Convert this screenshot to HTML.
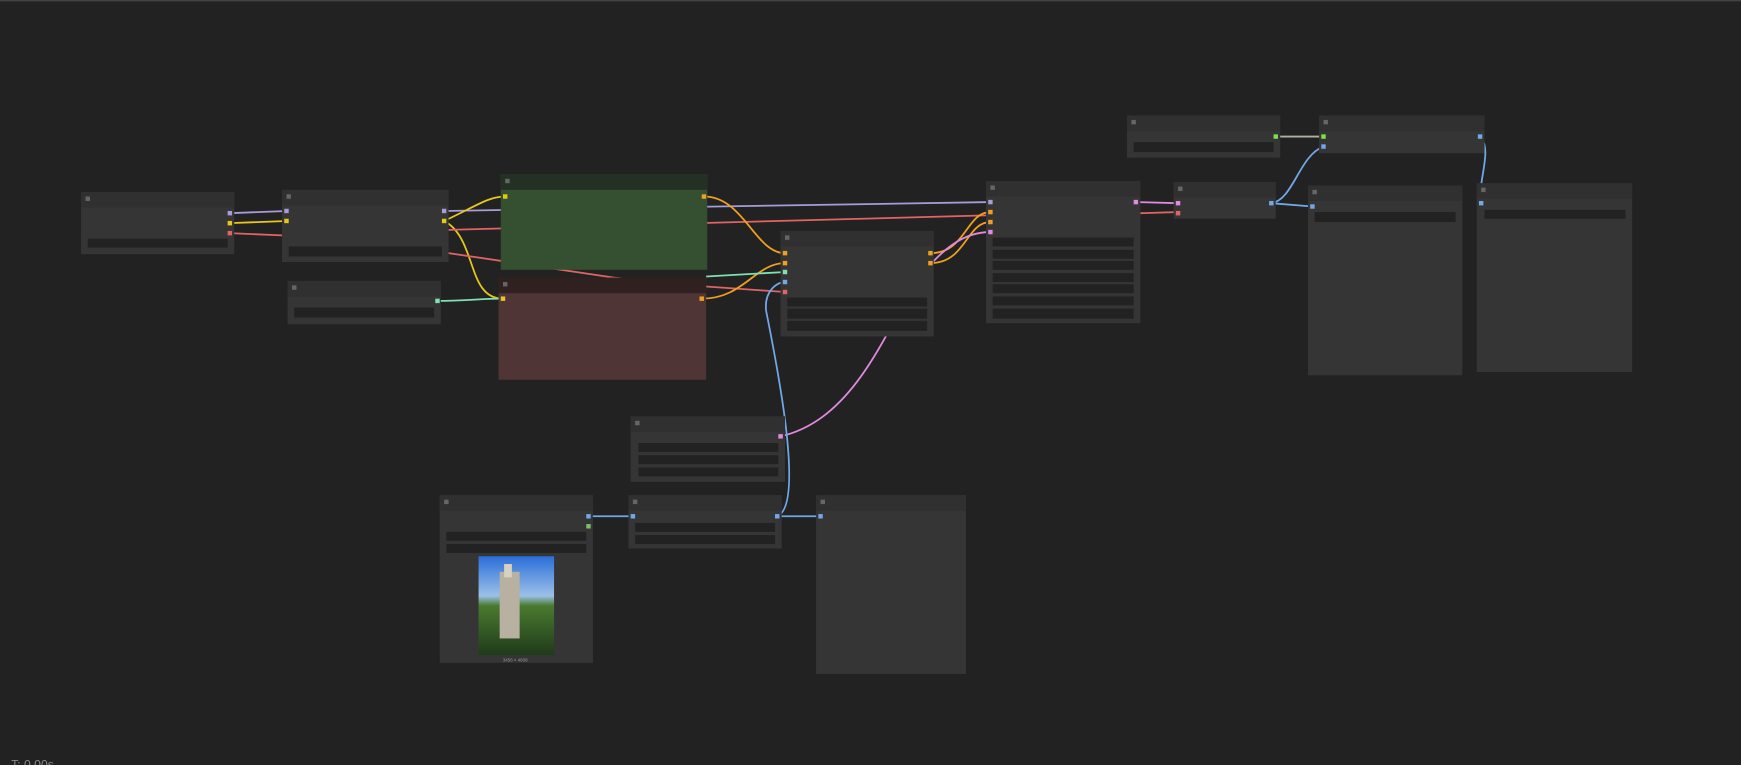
<!DOCTYPE html>
<html><head><style>
html,body{margin:0;padding:0;background:#222;overflow:hidden}
svg{display:block}
</style></head><body>
<svg width="1741" height="765" viewBox="0 0 1568 689" xmlns="http://www.w3.org/2000/svg">
<rect x="0" y="0" width="1568" height="689" fill="#222"/>
<line x1="0" y1="0.5" x2="1568" y2="0.5" stroke="#444" stroke-width="1.5"/>
<g fill="none" stroke-width="1.6">
<path d="M207 192 L258 190" stroke="#a99bd8"/>
<path d="M207 201 L258 199" stroke="#e6c819"/>
<path d="M207 210 L254 212" stroke="#e06464"/>
<path d="M400 190 L892 182" stroke="#a99bd8"/>
<path d="M400 199 C430 185,440 177,455 177" stroke="#e6c819"/>
<path d="M400 199 C430 215,420 269,453 269" stroke="#e6c819"/>
<path d="M404 207 L888 194" stroke="#e06464"/>
<path d="M404 228 L553 250 L636 258 L707 263" stroke="#e06464"/>
<path d="M393 271 C420 271,430 269,453 269" stroke="#7fe0b0"/>
<path d="M634 177 C670 177,680 228,707 228" stroke="#f0a020"/>
<path d="M632 269 C670 269,680 237,707 237" stroke="#f0a020"/>
<path d="M636 249 L707 245" stroke="#7fe0b0"/>
<path d="M838 228 C870 228,870 191,892 191" stroke="#f0a020"/>
<path d="M838 237 C870 237,870 200,892 200" stroke="#f0a020"/>
<path d="M703 393 C760 380,790 320,820 260 C850 220,870 209,892 209" stroke="#e08ae0"/>
<path d="M700 465 C725 455,700 330,690 280 C688 262,700 254,707 254" stroke="#70a8e8"/>
<path d="M700 465 L739 465" stroke="#70a8e8"/>
<path d="M530 465 L570 465" stroke="#70a8e8"/>
<path d="M1023 182 L1061 183" stroke="#e08ae0"/>
<path d="M1027 192 L1061 191" stroke="#e06464"/>
<path d="M1145 183 C1165 180,1170 140,1192 132" stroke="#70a8e8"/>
<path d="M1145 183 L1182 186" stroke="#70a8e8"/>
<path d="M1149 123 L1192 123" stroke="#b0b0a0"/>
<path d="M1333 123 C1345 135,1330 165,1334 183" stroke="#70a8e8"/>
</g>
<g>
<!-- generic nodes -->
<g fill="#353535">
<rect x="73" y="173" width="138" height="56"/>
<rect x="254" y="171" width="150" height="65"/>
<rect x="259" y="253" width="138" height="39"/>
<rect x="703" y="208" width="138" height="95"/>
<rect x="888" y="163" width="139" height="128"/>
<rect x="1057" y="164" width="92" height="33"/>
<rect x="1015" y="104" width="138" height="38"/>
<rect x="1188" y="104" width="149" height="34"/>
<rect x="1178" y="167" width="139" height="171"/>
<rect x="1330" y="165" width="140" height="170"/>
<rect x="568" y="375" width="139" height="59"/>
<rect x="396" y="446" width="138" height="151"/>
<rect x="566" y="446" width="138" height="48"/>
<rect x="735" y="446" width="135" height="161"/>
</g>
<g fill="#303030">
<rect x="73" y="173" width="138" height="14"/>
<rect x="254" y="171" width="150" height="14"/>
<rect x="259" y="253" width="138" height="14"/>
<rect x="703" y="208" width="138" height="14"/>
<rect x="888" y="163" width="139" height="14"/>
<rect x="1057" y="164" width="92" height="14"/>
<rect x="1015" y="104" width="138" height="14"/>
<rect x="1188" y="104" width="149" height="14"/>
<rect x="1178" y="167" width="139" height="14"/>
<rect x="1330" y="165" width="140" height="14"/>
<rect x="568" y="375" width="139" height="14"/>
<rect x="396" y="446" width="138" height="14"/>
<rect x="566" y="446" width="138" height="14"/>
<rect x="735" y="446" width="135" height="14"/>
</g>
<rect x="451" y="157" width="186" height="86" fill="#355030"/>
<rect x="451" y="157" width="186" height="14" fill="#233023"/>
<rect x="449" y="250" width="187" height="92" fill="#4f3535"/>
<rect x="449" y="250" width="187" height="14" fill="#302020"/>
<!-- widgets -->
<g fill="#222">
<rect x="79" y="215" width="126" height="8"/>
<rect x="260" y="222" width="138" height="9"/>
<rect x="265" y="277" width="126" height="9"/>
<rect x="709" y="268" width="126" height="8"/>
<rect x="709" y="278" width="126" height="9"/>
<rect x="709" y="289" width="126" height="9"/>
<rect x="894" y="214" width="127" height="8"/>
<rect x="894" y="225" width="127" height="8"/>
<rect x="894" y="235" width="127" height="8"/>
<rect x="894" y="246" width="127" height="8"/>
<rect x="894" y="256" width="127" height="8"/>
<rect x="894" y="267" width="127" height="8"/>
<rect x="894" y="278" width="127" height="9"/>
<rect x="1021" y="128" width="126" height="9"/>
<rect x="1184" y="191" width="127" height="9"/>
<rect x="1337" y="189" width="127" height="8"/>
<rect x="575" y="399" width="126" height="8"/>
<rect x="575" y="410" width="126" height="8"/>
<rect x="575" y="421" width="126" height="8"/>
<rect x="402" y="479" width="126" height="8"/>
<rect x="402" y="490" width="126" height="8"/>
<rect x="572" y="471" width="126" height="8"/>
<rect x="572" y="482" width="126" height="8"/>
</g>
<!-- title icons -->
<g fill="#666">
<rect x="77" y="177" width="4" height="4"/><rect x="258" y="175" width="4" height="4"/>
<rect x="263" y="257" width="4" height="4"/><rect x="455" y="161" width="4" height="4"/>
<rect x="453" y="254" width="4" height="4"/><rect x="707" y="212" width="4" height="4"/>
<rect x="892" y="167" width="4" height="4"/><rect x="1061" y="168" width="4" height="4"/>
<rect x="1019" y="108" width="4" height="4"/><rect x="1192" y="108" width="4" height="4"/>
<rect x="1182" y="171" width="4" height="4"/><rect x="1334" y="169" width="4" height="4"/>
<rect x="572" y="379" width="4" height="4"/><rect x="400" y="450" width="4" height="4"/>
<rect x="570" y="450" width="4" height="4"/><rect x="739" y="450" width="4" height="4"/>
</g>
<!-- image -->
<defs><linearGradient id="sky" x1="0" y1="0" x2="0" y2="1">
<stop offset="0" stop-color="#2a6ed8"/><stop offset="0.4" stop-color="#9cc0e8"/><stop offset="0.5" stop-color="#4a7a30"/><stop offset="1" stop-color="#1f3a1a"/></linearGradient></defs>
<rect x="431" y="501" width="68" height="89" fill="url(#sky)"/>
<rect x="450" y="515" width="18" height="60" fill="#b8b0a0"/>
<rect x="454" y="508" width="7" height="12" fill="#d8d0c0"/>
<text x="464" y="596" font-family="Liberation Sans, sans-serif" font-size="4" fill="#999" text-anchor="middle">3456 × 4608</text>
<!-- slots -->
<g>
<rect x="205" y="190" width="4" height="4" fill="#a99bd8"/><rect x="205" y="199" width="4" height="4" fill="#e6c819"/><rect x="205" y="208" width="4" height="4" fill="#e06464"/>
<rect x="256" y="188" width="4" height="4" fill="#a99bd8"/><rect x="256" y="197" width="4" height="4" fill="#e6c819"/>
<rect x="398" y="188" width="4" height="4" fill="#a99bd8"/><rect x="398" y="197" width="4" height="4" fill="#e6c819"/>
<rect x="392" y="269" width="4" height="4" fill="#7fe0b0"/>
<rect x="453" y="175" width="4" height="4" fill="#e6c819"/><rect x="632" y="175" width="4" height="4" fill="#f0a020"/>
<rect x="451" y="267" width="4" height="4" fill="#e6c819"/><rect x="630" y="267" width="4" height="4" fill="#f0a020"/>
<rect x="705" y="226" width="4" height="4" fill="#f0a020"/><rect x="705" y="235" width="4" height="4" fill="#f0a020"/>
<rect x="705" y="243" width="4" height="4" fill="#7fe0b0"/><rect x="705" y="252" width="4" height="4" fill="#70a8e8"/>
<rect x="705" y="261" width="4" height="4" fill="#e06464"/>
<rect x="836" y="226" width="4" height="4" fill="#f0a020"/><rect x="836" y="235" width="4" height="4" fill="#f0a020"/>
<rect x="890" y="180" width="4" height="4" fill="#a99bd8"/><rect x="890" y="189" width="4" height="4" fill="#f0a020"/>
<rect x="890" y="198" width="4" height="4" fill="#f0a020"/><rect x="890" y="207" width="4" height="4" fill="#e08ae0"/>
<rect x="1021" y="180" width="4" height="4" fill="#e08ae0"/>
<rect x="1059" y="181" width="4" height="4" fill="#e08ae0"/><rect x="1059" y="190" width="4" height="4" fill="#e06464"/>
<rect x="1143" y="181" width="4" height="4" fill="#70a8e8"/>
<rect x="1147" y="121" width="4" height="4" fill="#7ee04a"/>
<rect x="1190" y="121" width="4" height="4" fill="#7ee04a"/><rect x="1190" y="130" width="4" height="4" fill="#70a8e8"/>
<rect x="1331" y="121" width="4" height="4" fill="#70a8e8"/>
<rect x="1180" y="184" width="4" height="4" fill="#70a8e8"/>
<rect x="1332" y="181" width="4" height="4" fill="#70a8e8"/>
<rect x="701" y="391" width="4" height="4" fill="#e08ae0"/>
<rect x="528" y="463" width="4" height="4" fill="#70a8e8"/><rect x="528" y="472" width="4" height="4" fill="#7ec060"/>
<rect x="568" y="463" width="4" height="4" fill="#70a8e8"/><rect x="698" y="463" width="4" height="4" fill="#70a8e8"/>
<rect x="737" y="463" width="4" height="4" fill="#70a8e8"/>
</g>
</g>
<text x="10" y="692" font-family="Liberation Sans, sans-serif" font-size="11" fill="#888">T: 0.00s</text>
</svg>
</body></html>
